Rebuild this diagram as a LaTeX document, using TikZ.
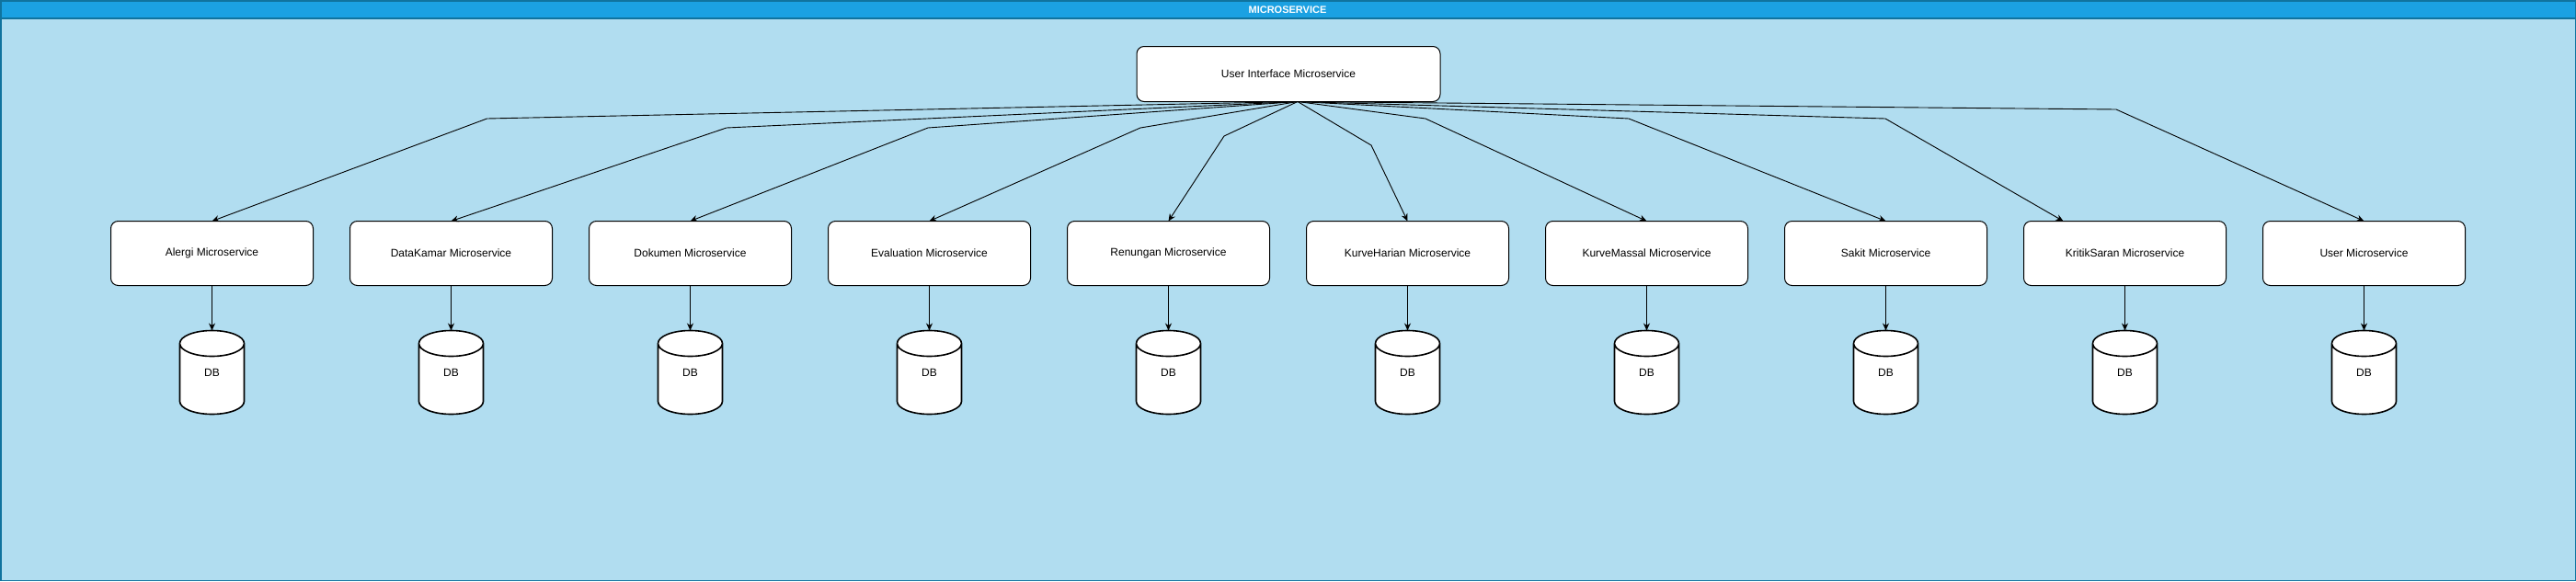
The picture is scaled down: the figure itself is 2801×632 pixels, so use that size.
\documentclass[tikz,border=0pt]{standalone}
\usepackage{fontspec}
\setmainfont{Liberation Sans}
\usepackage{tikz}
\usetikzlibrary{arrows.meta,positioning,shapes.geometric}
\usepackage{xcolor}
\definecolor{laneHead}{HTML}{1BA1E2}
\definecolor{laneBody}{HTML}{B1DDF0}
\definecolor{laneLine}{HTML}{10739E}

\begin{document}
\begin{tikzpicture}[x=1pt, y=-1pt,
    svc/.style={draw, fill=white, rounded corners=8pt, line width=1pt,
                minimum width=220pt, minimum height=70pt, outer sep=0pt,
                font=\fontsize{12}{14}\selectfont},
    ui/.style={svc, minimum width=330pt, minimum height=60pt},
    dbase/.style={cylinder, shape border rotate=90, aspect=1.2, draw, fill=white,
                  line width=1.6pt, minimum width=70pt, minimum height=91pt,
                  outer sep=0pt, font=\fontsize{12}{14}\selectfont},
    dbtext/.style={font=\fontsize{12}{14}\selectfont},
    link/.style={-{Stealth[length=8pt,width=7pt]}, line width=0.9pt}]
\useasboundingbox (0,0) rectangle (2801,632);

% Draw the swimlane container
\fill[laneBody] (0,0) rectangle (2801,632);
\fill[laneHead] (0,0) rectangle (2801,20);
\draw[laneLine, line width=1.5pt] (0,20) -- (2801,20);
\draw[laneLine, line width=1.5pt] (0.75,0.75) rectangle (2800.25,631.25);
\node[text=white, font=\bfseries\fontsize{11}{13}\selectfont] (title) at (1400,10.5) {MICROSERVICE};

% Gateway on top
\node[ui] (ui) at (1401,80.5) {User Interface Microservice};
\coordinate (hub) at ([xshift=10pt]ui.south);

% Row of services
\node[svc] (alergi) at (230.5,275.5) {Alergi Microservice};
\node[svc, right=40pt of alergi] (datakamar) {DataKamar Microservice};
\node[svc, right=40pt of datakamar] (dokumen) {Dokumen Microservice};
\node[svc, right=40pt of dokumen] (evaluation) {Evaluation Microservice};
\node[svc, right=40pt of evaluation] (renungan) {Renungan Microservice};
\node[svc, right=40pt of renungan] (kurveharian) {KurveHarian Microservice};
\node[svc, right=40pt of kurveharian] (kurvemassal) {KurveMassal Microservice};
\node[svc, right=40pt of kurvemassal] (sakit) {Sakit Microservice};
\node[svc, right=40pt of sakit] (kritiksaran) {KritikSaran Microservice};
\node[svc, right=40pt of kritiksaran] (user) {User Microservice};

% One database per service, label in the middle of the drum
\foreach \s in {alergi,datakamar,dokumen,evaluation,renungan,kurveharian,kurvemassal,sakit,kritiksaran,user} {
  \node[dbase, below=49pt of \s] (db\s) {\phantom{DB}};
  \node[dbtext] (txt\s) at (db\s.shape center) {DB};
}

% Routes from the gateway
\draw[link] (hub) -- (529.5,129) -- (alergi.north);
\draw[link] (hub) -- (790,139) -- (datakamar.north);
\draw[link] (hub) -- (1009,139) -- (dokumen.north);
\draw[link] (hub) -- (1240,139) -- (evaluation.north);
\draw[link] (hub) -- (1331,148) -- (renungan.north);
\draw[link] (hub) -- (1491,158) -- (kurveharian.north);
\draw[link] (hub) -- (1550,129) -- (kurvemassal.north);
\draw[link] (hub) -- (1771,129) -- (sakit.north);
\draw[link] (hub) -- (2050,129) -- ([xshift=-67pt]kritiksaran.north);
\draw[link] (hub) -- (2301,119) -- (user.north);

% Service to database
\draw[link] (alergi) -- (dbalergi);
\draw[link] (datakamar) -- (dbdatakamar);
\draw[link] (dokumen) -- (dbdokumen);
\draw[link] (evaluation) -- (dbevaluation);
\draw[link] (renungan) -- (dbrenungan);
\draw[link] (kurveharian) -- (dbkurveharian);
\draw[link] (kurvemassal) -- (dbkurvemassal);
\draw[link] (sakit) -- (dbsakit);
\draw[link] (kritiksaran) -- (dbkritiksaran);
\draw[link] (user) -- (dbuser);

\end{tikzpicture}
\end{document}
